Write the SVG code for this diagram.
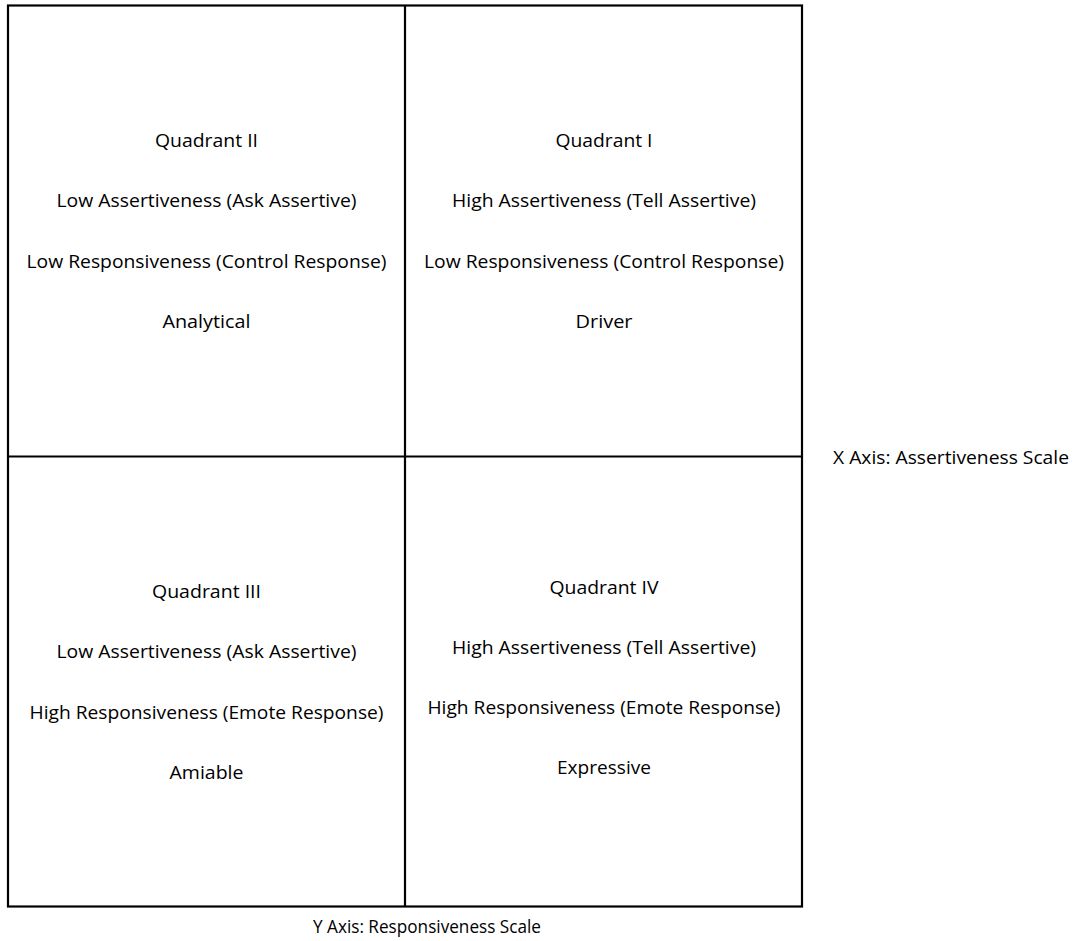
<svg xmlns="http://www.w3.org/2000/svg" width="1074" height="941" viewBox="0 0 1074 941">
<style>
text{font-family:"Open Sans","Liberation Sans",sans-serif;font-size:18px;fill:#000;text-anchor:middle}
.ln{stroke:#000;stroke-width:2.2;fill:none}
</style>
<rect x="0" y="0" width="1074" height="941" fill="#fff"/>
<g id="frame">
<rect class="ln" x="8" y="5.5" width="794" height="901"/>
</g>
<g id="connectors">
<line class="ln" x1="405" y1="5.5" x2="405" y2="906.5"/>
<line class="ln" x1="8" y1="456.5" x2="802" y2="456.5"/>
</g>
<g id="q2">
<text x="206.5" y="146.5" textLength="103" lengthAdjust="spacingAndGlyphs">Quadrant II</text>
<text x="206.5" y="206.5" textLength="300" lengthAdjust="spacingAndGlyphs">Low Assertiveness (Ask Assertive)</text>
<text x="206.5" y="267.5" textLength="360" lengthAdjust="spacingAndGlyphs">Low Responsiveness (Control Response)</text>
<text x="206.5" y="327.5" textLength="88" lengthAdjust="spacingAndGlyphs">Analytical</text>
</g>
<g id="q1">
<text x="604" y="146.5" textLength="97" lengthAdjust="spacingAndGlyphs">Quadrant I</text>
<text x="604" y="206.5" textLength="304" lengthAdjust="spacingAndGlyphs">High Assertiveness (Tell Assertive)</text>
<text x="604" y="267.5" textLength="360" lengthAdjust="spacingAndGlyphs">Low Responsiveness (Control Response)</text>
<text x="604" y="327.5" textLength="57" lengthAdjust="spacingAndGlyphs">Driver</text>
</g>
<g id="q3">
<text x="206.5" y="597.5" textLength="109" lengthAdjust="spacingAndGlyphs">Quadrant III</text>
<text x="206.5" y="657.5" textLength="300" lengthAdjust="spacingAndGlyphs">Low Assertiveness (Ask Assertive)</text>
<text x="206.5" y="718.5" textLength="354" lengthAdjust="spacingAndGlyphs">High Responsiveness (Emote Response)</text>
<text x="206.5" y="778.5" textLength="74" lengthAdjust="spacingAndGlyphs">Amiable</text>
</g>
<g id="q4">
<text x="604" y="593.5" textLength="109" lengthAdjust="spacingAndGlyphs">Quadrant IV</text>
<text x="604" y="653.5" textLength="304" lengthAdjust="spacingAndGlyphs">High Assertiveness (Tell Assertive)</text>
<text x="604" y="713.5" textLength="353" lengthAdjust="spacingAndGlyphs">High Responsiveness (Emote Response)</text>
<text x="604" y="773.5" textLength="94" lengthAdjust="spacingAndGlyphs">Expressive</text>
</g>
<g id="xaxis">
<text x="951" y="463.5" textLength="236" lengthAdjust="spacingAndGlyphs">X Axis: Assertiveness Scale</text>
</g>
<g id="yaxis">
<text x="427" y="932.5" textLength="228" lengthAdjust="spacingAndGlyphs">Y Axis: Responsiveness Scale</text>
</g>
</svg>
